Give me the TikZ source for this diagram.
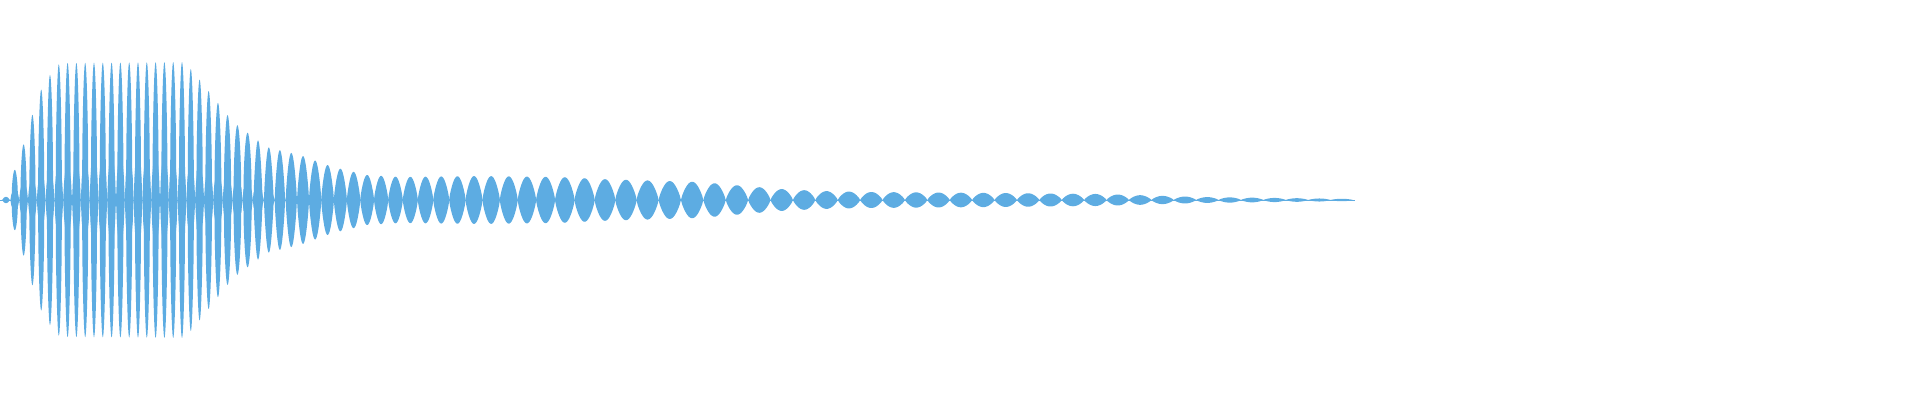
\documentclass[tikz,border=0pt]{standalone}
\definecolor{wave}{RGB}{93,172,226}
\newcommand\mylerp[3]{\gdef#3{0}\foreach \xa/\ya/\xb/\yb in #2{\pgfmathtruncatemacro\ok{and(#1>=\xa,#1<\xb)}\ifnum\ok=1 \pgfmathsetmacro\tmp{\ya+(\yb-\ya)*(#1-\xa)/(\xb-\xa)}\xdef#3{\tmp}\fi}}
\begin{document}
\begin{tikzpicture}[x=1pt,y=1pt]
\tikzset{lobe/.style={fill=wave,draw=none}}
\useasboundingbox (0,0) rectangle (1920,400);
\coordinate (start) at (0,200);
\coordinate (end) at (1355,200);
\draw[wave,line width=0.8pt] (start) -- (end);
\def\envtab{5/0/18/40,18/40/27/65,27/65/35/95,35/95/43/115,43/115/52/128,52/128/60/137,60/137/185/138,185/138/200/120,200/120/233/78,233/78/267/53,267/53/300/45,300/45/333/33,333/33/367/25,367/25/400/23,400/23/480/24,480/24/560/23,560/23/600/21,600/21/700/18,700/18/745/14,745/14/780/11,780/11/820/9,820/9/870/8,870/8/1000/7,1000/7/1100/6,1100/6/1200/3,1200/3/1360/1}
\def\bandtab{5/0/20/16,20/16/60/34,60/34/100/46,100/46/170/46,170/46/200/34,200/34/300/0}
\foreach \i [remember=\nx as \cx (initially 6)] in {1,...,120}{
  \pgfmathsetmacro\s{min(22.4,max(8.8,12+(\cx-300)/34))}
  \pgfmathsetmacro\nx{\cx+\s}
  \ifdim\cx pt<1355pt
    \mylerp{\cx}{\envtab}{\amp}
    \mylerp{\cx}{\bandtab}{\band}
    \pgfmathsetmacro\w{\cx<190 ? 3.2 : (\cx>300 ? \s/2 : 3.2+(\s/2-3.2)*(\cx-190)/110)}
    \pgfmathsetmacro\ex{\cx<250 ? 0.5 : 0.8}
    \fill[lobe] plot[variable=\t,domain=0:180,samples=19] ({\cx-\w+\w*\t/90},{200+\amp*sin(\t)^\ex})
      -- plot[variable=\t,domain=180:0,samples=19] ({\cx-\w+\w*\t/90},{200-\amp*sin(\t)^\ex}) -- cycle;
    \ifdim\band pt>0.5pt
      \fill[lobe] plot[variable=\t,domain=0:180,samples=11] ({\cx-\s/2+\s*\t/180},{200+\band*sin(\t)^0.6})
        -- plot[variable=\t,domain=180:0,samples=11] ({\cx-\s/2+\s*\t/180},{200-\band*sin(\t)^0.6}) -- cycle;
    \fi
  \fi
}
\end{tikzpicture}
\end{document}
